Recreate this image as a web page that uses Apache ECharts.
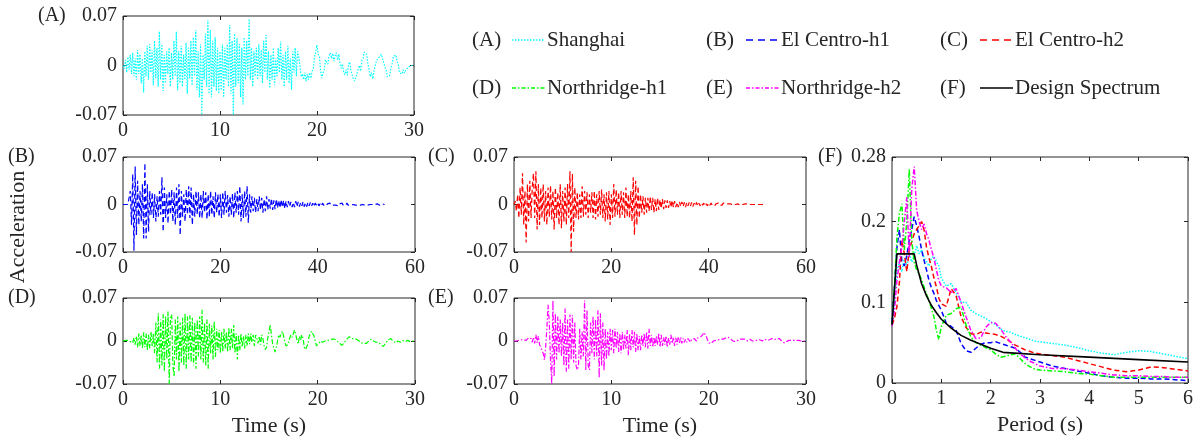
<!DOCTYPE html>
<html><head><meta charset="utf-8">
<script src="https://cdn.jsdelivr.net/npm/echarts@6/dist/echarts.min.js"></script>
<style>html,body{margin:0;padding:0;background:#fff}#c{width:1195px;height:444px}</style>
</head><body><div id="c"></div>
<script>
// ---------------- DATA ----------------
const seriesNames = ['Shanghai', 'El Centro-h1', 'El Centro-h2', 'Northridge-h1', 'Northridge-h2', 'Design Spectrum'];
const panelTags = ['(A)', '(B)', '(C)', '(D)', '(E)', '(F)'];
const accTicks = [-0.07, 0, 0.07];
const spectrumTicks = [0, 0.1, 0.2, 0.28];
const timeTicksShort = [0, 10, 20, 30];
const timeTicksLong = [0, 20, 40, 60];
const periodTicks = [0, 1, 2, 3, 4, 5, 6];

// sampling step (s) of the digitised records
const dtShanghai = 0.125;
const dtElCentro1 = 0.25;
const dtElCentro2 = 0.25;
const dtNorthridge1 = 0.125;
const dtNorthridge2 = 0.125;

// (A) Shanghai acceleration (g)
const accShanghai = [
0,-.005,.008,-.01,.012,-.006,.015,-.012,
.018,-.015,.01,-.02,.022,-.012,.016,-.025,
.01,-.038,.02,-.015,.028,-.02,.03,-.01,
.022,-.028,.035,-.018,.025,-.03,.048,-.02,
.03,-.036,.015,-.025,.02,-.012,.025,-.03,
.018,-.02,.035,-.015,.048,-.035,.02,-.025,
.028,-.03,.015,-.02,.032,-.04,.025,-.018,
.035,-.028,.04,-.015,.05,-.035,.02,-.045,
.03,-.07,.015,-.02,.045,-.03,.064,-.04,
.05,-.045,.035,-.03,.04,-.036,.025,-.04,
.02,-.035,.03,-.045,.025,-.02,.03,-.03,
.057,-.04,.035,-.07,.045,-.03,.038,-.025,
.03,-.045,.025,-.055,.04,-.02,.035,-.015,
.066,-.02,.025,-.03,.02,-.015,.025,-.02,
.03,-.015,.022,-.025,.035,-.01,.043,-.02,
.02,-.032,.015,-.02,.025,-.028,.01,-.015,
.025,-.01,.034,-.02,.015,-.03,.02,-.02,
.028,-.025,.01,-.034,.02,-.01,.025,-.015,
.02,.012,-.002,-.016,-.012,-.02,-.01,-.022,
-.012,-.02,-.01,-.018,-.008,-.004,.012,.02,
.029,.016,.012,-.008,-.018,-.01,-.006,.008,
.01,.002,.014,.018,.01,.017,.006,.014,
.018,.008,.016,.002,-.004,.002,-.01,-.013,
-.006,-.014,.002,.005,-.008,-.01,-.019,-.022,
-.017,-.016,-.005,0,-.008,.007,.01,.019,
.018,.016,.002,-.006,-.016,-.01,-.019,-.008,
-.007,.007,.008,.011,.012,.016,.01,.009,
-.002,-.006,-.016,-.015,-.014,-.003,.003,.013,
.013,.015,.006,.002,-.01,-.009,-.012,-.006,
-.011,-.007,-.008,-.003,-.005,0,-.002,0
];

// (B) El Centro-h1 acceleration (g)
const accElCentro1 = [
0,0,0,0,0,0,.02,-.03,
.045,-.068,.056,-.045,.035,-.03,.02,-.025,
.03,-.05,.061,-.05,.03,-.04,.02,-.015,
.018,-.02,.015,-.025,.012,-.018,.02,-.015,
.04,-.04,.025,-.02,.015,-.028,.02,-.015,
.022,-.025,.018,-.03,.025,-.02,.03,-.045,
.02,-.018,.015,-.025,.022,-.015,.027,-.02,
.025,-.03,.015,-.018,.02,-.015,.018,-.02,
.015,-.02,.02,-.012,.018,-.022,.015,-.018,
.02,-.015,.012,-.02,.018,-.012,.015,-.018,
.015,-.02,.018,-.015,.02,-.012,.014,-.018,
.012,-.015,.016,-.02,.018,-.012,.02,-.015,
.027,-.025,.015,-.02,.02,-.018,.027,-.027,
.015,-.012,.012,-.01,.01,-.012,.008,-.01,
.012,-.008,.01,-.012,.008,-.01,.012,-.008,
.008,-.006,.009,-.008,.006,-.007,.008,-.005,
.006,-.005,.007,-.004,.006,-.006,.005,-.004,
.005,-.003,.004,-.004,.003,-.004,.005,-.003,
.004,-.003,.003,-.002,.004,-.003,.002,-.003,
.003,-.002,.003,-.002,.002,-.003,.002,-.001,
.002,-.002,.001,-.002,.002,-.001,.001,-.002,
.001,-.001,.002,-.001,.001,-.001,.001,-.001,
.001,-.002,.001,-.001,.002,-.001,.001,-.001,
.002,-.001,.001,-.001,.001,0,.001,-.001,
.001,-.001,0,-.001,.001,0,.001,-.001,
0,-.001,.001,0,-.001,0,.001,0,
0,.001,0,-.001,0,.001,0,0
];

// (C) El Centro-h2 acceleration (g)
const accElCentro2 = [
0,.005,-.01,.015,-.02,.025,-.015,.046,
-.03,.02,-.056,.03,-.025,.035,-.02,.025,
.046,-.02,.049,-.037,.03,-.03,.025,-.02,
.03,-.025,.02,-.03,.025,-.018,.028,-.022,
.02,-.037,.025,-.02,.018,-.03,.03,-.035,
.02,-.025,.025,-.03,.03,-.02,.049,-.07,
.045,-.04,.025,-.02,.018,-.022,.015,-.02,
.027,-.018,.02,-.015,.018,-.02,.015,-.012,
.018,-.02,.02,-.022,.015,-.018,.02,-.015,
.022,-.02,.015,-.025,.018,-.022,.02,-.03,
.015,-.02,.03,-.018,.022,-.015,.018,-.02,
.02,-.015,.018,-.02,.025,-.018,.015,-.02,
.02,-.025,.04,-.045,.035,-.03,.027,-.02,
.015,-.012,.012,-.015,.01,-.012,.01,-.01,
.012,-.008,.01,-.012,.008,-.01,.01,-.008,
.007,-.006,.008,-.007,.006,-.005,.006,-.005,
.005,-.004,.006,-.004,.005,-.004,.003,-.004,
.004,-.003,.004,-.003,.003,-.004,.003,-.002,
.003,-.002,.003,-.003,.002,-.002,.003,-.002,
.002,-.002,.002,-.001,.002,-.002,.001,-.002,
.002,-.001,.002,-.001,.001,-.002,.001,-.001,
.002,-.001,.001,-.001,.002,0,.001,-.001,
.001,-.001,.001,0,-.001,.001,0,-.001,
.001,0,-.001,.001,0,-.001,.001,0,
.001,-.001,0,.001,0,-.001,0,.001,
0,-.001,0,.001,0,0,0,0
];

// (D) Northridge-h1 acceleration (g)
const accNorthridge1 = [
0,0,.001,-.001,.001,0,-.001,.002,
-.003,.005,-.006,.008,-.01,.012,-.008,.01,
-.012,.014,-.01,.012,-.015,.01,-.012,.015,
-.008,.012,-.02,.03,-.035,.045,-.045,.035,
-.04,.044,-.05,.04,-.03,.048,-.07,.038,
.043,-.04,-.058,.035,-.03,.04,-.05,.03,
-.035,.038,-.04,.045,-.045,.04,-.03,.042,
-.035,.038,-.04,.03,-.045,.035,-.025,.04,
-.03,.051,-.035,.03,-.04,.035,-.045,.028,
-.02,.025,-.03,.032,-.026,.02,-.015,.018,
-.02,.015,-.018,.02,-.012,.015,-.018,.022,
-.015,.02,-.012,.026,-.02,.012,-.03,.01,
-.015,.012,-.01,.008,-.012,.01,-.008,.012,
-.005,.012,-.002,.01,-.008,.01,.005,-.004,
.008,-.006,.01,.004,-.008,-.014,-.01,.005,
.015,.027,.01,-.005,-.012,-.018,-.01,0,
.01,.006,.012,.016,.008,-.002,-.008,-.01,
-.005,.005,.01,.006,.012,.018,.01,.002,
-.005,.008,.002,.01,.004,-.01,-.014,-.012,
-.005,.008,.012,.016,.014,.008,0,-.008,
-.006,-.004,0,-.003,-.002,.001,0,.002,
.001,.003,.002,.004,.003,.002,.003,.001,
0,-.002,-.004,-.006,-.007,-.005,-.002,0,
.003,.005,.007,.006,.004,.005,.004,.002,
.003,.002,0,-.002,-.003,-.002,-.004,-.006,
-.004,-.002,0,.002,.003,.002,0,-.001,
-.002,0,-.002,-.004,-.006,-.008,-.009,-.006,
-.003,0,.002,.003,.004,.003,0,-.002,
-.003,-.002,0,-.001,-.002,0,.001,0,
-.001,0,.001,0,-.001,0,0,0
];

// (E) Northridge-h2 acceleration (g)
const accNorthridge2 = [
0,.001,0,.002,.001,.003,.002,.003,
.002,.004,.001,.003,.005,.002,.004,-.002,
.006,-.004,.01,-.003,.008,-.006,-.01,-.015,
-.02,-.031,-.01,.02,.059,.03,-.03,-.07,
.066,-.058,.045,-.03,.04,-.02,.035,-.025,
.03,-.04,.053,-.05,.035,-.045,.043,-.03,
.042,-.035,.03,-.04,-.047,-.04,.02,-.03,
.015,-.025,.066,-.047,.05,-.04,-.047,.03,
-.02,.04,-.03,.035,-.025,.05,-.06,.045,
-.04,.03,-.048,.02,-.03,.015,-.025,.02,
-.015,.018,-.02,.02,-.012,.015,-.018,.012,
-.02,.015,-.015,.01,-.012,.018,-.023,.012,
-.015,.018,-.01,.015,-.018,.012,-.015,.008,
-.015,.01,-.008,.012,-.01,.015,-.012,.02,
-.008,.01,-.01,.006,-.008,.008,-.006,.013,
-.01,.01,-.008,.006,-.006,.008,-.01,.005,
-.006,.01,-.004,.006,-.008,.005,-.006,.007,
-.003,.006,-.004,.004,-.002,.003,-.002,.004,
.002,-.002,.003,.001,.004,.002,0,.005,
.004,.006,.008,.01,.014,.015,.008,.002,
-.003,-.005,-.004,-.002,0,.002,.001,.003,
.002,.004,.003,.002,.003,.004,.005,.004,
.006,.004,.003,.001,0,-.002,-.001,0,
.001,.002,.003,.004,.003,.002,.003,.001,
0,.002,.003,.002,0,-.001,0,.001,
.002,.003,.002,.001,0,.002,.003,.002,
.001,0,.002,.003,.004,.003,.002,.003,
.004,.005,.004,.002,0,-.002,-.003,-.003,
-.001,0,.001,.002,.001,0,.001,.002,
.001,0,.001,0,0,.001,0,0
];

// (F) response spectra (g) at these periods (s)
const periods = [0,.05,.1,.15,.2,.25,.3,.35,.4,.45,.5,.55,.6,.65,.7,.75,.8,.85,.9,.95,1.0,1.1,1.2,1.3,1.4,1.5,1.6,1.7,1.8,1.9,2.0,2.1,2.2,2.3,2.4,2.5,2.6,2.7,2.8,2.9,3.0,3.25,3.5,3.75,4.0,4.25,4.5,4.75,5.0,5.25,5.5,5.75,6.0];
const specShanghai = [.072,.10,.14,.15,.138,.155,.145,.16,.15,.158,.17,.16,.165,.155,.15,.145,.155,.157,.15,.145,.13,.12,.123,.112,.10,.10,.09,.086,.083,.08,.076,.072,.067,.064,.063,.06,.058,.056,.054,.052,.051,.049,.047,.044,.04,.037,.035,.038,.04,.039,.036,.033,.03];
const specElCentro1 = [.075,.12,.168,.19,.15,.145,.158,.177,.19,.206,.195,.181,.165,.152,.14,.127,.118,.111,.102,.096,.09,.074,.07,.065,.049,.04,.038,.043,.048,.05,.05,.051,.049,.047,.045,.043,.038,.032,.03,.028,.026,.021,.018,.015,.012,.009,.007,.006,.006,.005,.005,.004,.003];
const specElCentro2 = [.072,.08,.095,.125,.177,.16,.138,.165,.175,.185,.19,.195,.20,.19,.168,.155,.144,.13,.119,.105,.098,.095,.117,.108,.082,.069,.061,.06,.063,.062,.061,.06,.058,.055,.051,.047,.044,.041,.039,.037,.036,.034,.032,.028,.024,.02,.016,.014,.016,.02,.019,.017,.015];
const specNorthridge1 = [.07,.12,.18,.21,.222,.165,.2,.265,.177,.15,.14,.135,.128,.119,.11,.102,.092,.082,.065,.054,.07,.084,.086,.092,.094,.072,.057,.05,.047,.044,.041,.036,.032,.033,.035,.036,.03,.024,.02,.017,.016,.015,.014,.012,.011,.009,.007,.007,.007,.007,.007,.007,.007];
const specNorthridge2 = [.07,.09,.127,.15,.168,.2,.23,.156,.24,.268,.214,.2,.19,.197,.185,.177,.165,.155,.14,.127,.12,.118,.112,.117,.1,.082,.065,.055,.056,.069,.075,.074,.067,.058,.051,.043,.036,.031,.027,.024,.021,.018,.018,.016,.014,.012,.01,.009,.009,.008,.008,.007,.007];
const designPeriods = [0,.1,.45,.5,.6,.7,.8,.9,1.0,1.2,1.4,1.6,1.8,2.0,2.25,3,4,5,6];
const designSpec = [.072,.16,.16,.146,.123,.108,.096,.087,.079,.068,.059,.053,.048,.043,.038,.035,.032,.029,.026];

// ---------------- CHART ----------------
const FONT = '"Liberation Serif","Times New Roman",serif';
const INK = '#262626';
const colors = ['#00FFFF', '#0000FF', '#FF0000', '#00FF00', '#FF00FF', '#000000'];
const dashes = [[1.5, 1.5], [5, 3], [5, 3], [5, 2, 1.5, 2], [5, 2, 1.5, 2], 'solid'];
const legendDashes = [[1.5, 1.5], [7, 5], [7, 5], [4, 2, 1.5, 2], [4, 2, 1.5, 2], null];

const grids = [
  { left: 123, top: 16, width: 291, height: 99 },
  { left: 123, top: 157, width: 292, height: 95 },
  { left: 514, top: 157, width: 292, height: 95 },
  { left: 123, top: 298, width: 292, height: 86 },
  { left: 514, top: 298, width: 292, height: 86 },
  { left: 892, top: 157, width: 296, height: 226 }
].map(g => Object.assign({ show: true, borderColor: INK, borderWidth: 1, backgroundColor: 'transparent', containLabel: false, outerBoundsMode: 'none' }, g));

const xAxes = [], yAxes = [];
function fmt(v) { return String(Math.round(v * 100) / 100); }
function addAxes(gi, xt, yt) {
  const xmin = xt[0], xmax = xt[xt.length - 1], xint = xt[1] - xt[0];
  const ymin = yt[0], ymax = yt[yt.length - 1], yint = yt[1] - yt[0];
  const tick = { inside: true, length: 4, lineStyle: { color: INK, width: 1 } };
  const lab = { fontFamily: FONT, fontSize: 20, color: INK, margin: 6 };
  [['bottom', true], ['top', false]].forEach(([pos, show]) => xAxes.push({
    gridIndex: gi, type: 'value', position: pos, min: xmin, max: xmax, interval: xint,
    axisLine: { show: false, onZero: false }, axisTick: tick, splitLine: { show: false },
    axisLabel: Object.assign({ show: show, formatter: fmt }, lab)
  }));
  [['left', true], ['right', false]].forEach(([pos, show]) => yAxes.push({
    gridIndex: gi, type: 'value', position: pos, min: ymin, max: ymax, interval: yint,
    axisLine: { show: false, onZero: false }, axisTick: tick, splitLine: { show: false },
    axisLabel: Object.assign({ show: show, formatter: fmt }, lab)
  }));
}
addAxes(0, timeTicksShort, accTicks);
addAxes(1, timeTicksLong, accTicks);
addAxes(2, timeTicksLong, accTicks);
addAxes(3, timeTicksShort, accTicks);
addAxes(4, timeTicksShort, accTicks);
addAxes(5, periodTicks, spectrumTicks);

const records = [
  [accShanghai, dtShanghai],
  [accElCentro1, dtElCentro1],
  [accElCentro2, dtElCentro2],
  [accNorthridge1, dtNorthridge1],
  [accNorthridge2, dtNorthridge2]
];
const series = [];
records.forEach(([acc, dt], i) => {
  series.push({
    name: seriesNames[i], type: 'line', xAxisIndex: 2 * i, yAxisIndex: 2 * i,
    data: acc.map((a, k) => [k * dt, a]), symbol: 'none', silent: true,
    lineStyle: { color: colors[i], width: 1.2, type: dashes[i] }, itemStyle: { color: colors[i] }
  });
});
const spectra = [specShanghai, specElCentro1, specElCentro2, specNorthridge1, specNorthridge2];
spectra.forEach((sp, i) => {
  series.push({
    name: seriesNames[i], type: 'line', xAxisIndex: 10, yAxisIndex: 10,
    data: sp.map((s, k) => [periods[k], s]), symbol: 'none', silent: true,
    lineStyle: { color: colors[i], width: 1.5, type: dashes[i] }, itemStyle: { color: colors[i] }
  });
});
series.push({
  name: seriesNames[5], type: 'line', xAxisIndex: 10, yAxisIndex: 10,
  data: designSpec.map((s, k) => [designPeriods[k], s]), symbol: 'none', silent: true, z: 5,
  lineStyle: { color: colors[5], width: 1.6, type: 'solid' }, itemStyle: { color: colors[5] }
});

// legend layout (drawn as graphic: tag, line sample, name)
const legX = [512, 746, 980];
const legY = [40, 88];
const texts = [];
function txt(x, y, s, size, extra) {
  texts.push(Object.assign({ type: 'text', x: x, y: y, style: { text: s, font: size + 'px ' + FONT, fill: INK, align: 'left', verticalAlign: 'middle' } }, extra || {}));
}
seriesNames.forEach((n, i) => {
  const x = legX[i % 3], y = legY[Math.floor(i / 3)];
  txt(x - 40, y, panelTags[i], 21);
  texts.push({ type: 'line', shape: { x1: x, y1: y, x2: x + 33, y2: y },
    style: { stroke: colors[i], lineWidth: i === 5 ? 1.6 : 1.5, lineDash: legendDashes[i] } });
  txt(x + 35, y, n, 21);
});
// panel tags
const tagPos = [[38, 16], [8, 157], [428, 157], [8, 298], [428, 298], [818, 157]];
tagPos.forEach((p, i) => txt(p[0], p[1], panelTags[i], 20));
// axis titles
texts.push({ type: 'text', x: 18, y: 227, rotation: Math.PI / 2, style: { text: 'Acceleration', font: '22px ' + FONT, fill: INK, align: 'center', verticalAlign: 'middle' } });
[[269, 426, 'Time (s)'], [660, 426, 'Time (s)'], [1040, 425, 'Period (s)']].forEach(t => texts.push({ type: 'text', x: t[0], y: t[1], style: { text: t[2], font: '22px ' + FONT, fill: INK, align: 'center', verticalAlign: 'middle' } }));

const chart = echarts.init(document.getElementById('c'), null, { renderer: 'canvas' });
chart.setOption({
  animation: false,
  backgroundColor: '#fff',
  textStyle: { fontFamily: FONT },
  grid: grids, xAxis: xAxes, yAxis: yAxes, series: series,
  graphic: texts
});
</script></body></html>
